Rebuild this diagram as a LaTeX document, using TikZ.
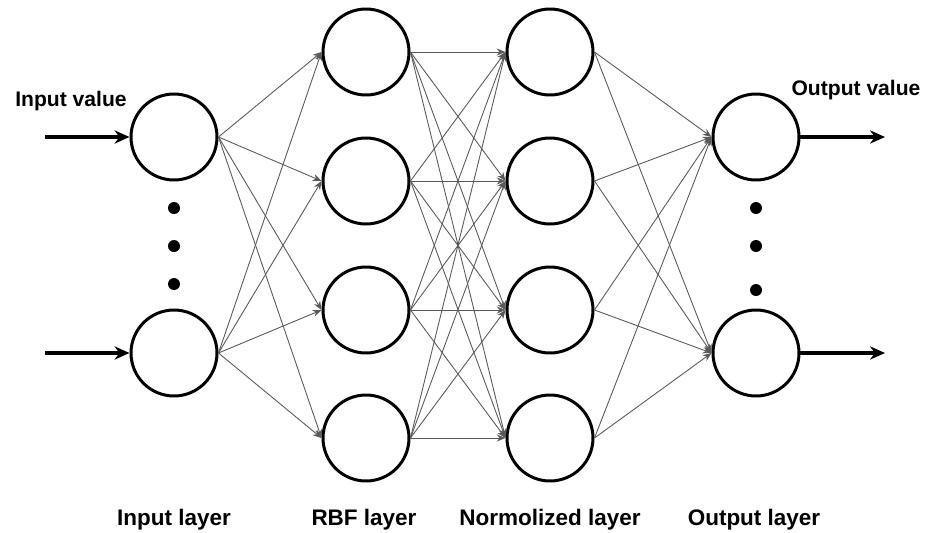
\documentclass[tikz,border=0pt]{standalone}
\usepackage{fontspec}
\setmainfont{Liberation Sans}
\usetikzlibrary{arrows.meta}

\begin{document}
\begin{tikzpicture}[
    x=0.02cm, y=-0.02cm,
    every node/.style={font=\bfseries\fontsize{12}{14}\selectfont},
    neuron/.style={circle, draw, line width=1.7pt, minimum size=1.72cm, inner sep=0pt},
    link/.style={draw=black!65, line width=0.5pt, -{Stealth[length=5pt,width=4pt]}},
    io/.style={line width=2pt, -{Stealth[length=8.5pt,width=7.5pt]}},
    layername/.style={font=\bfseries\fontsize{12.8}{14}\selectfont},
  ]
    \useasboundingbox (0,0) rectangle (934,532);
    %% Neurons
    \foreach \n/\y in {1/137,2/353}
      \node[neuron] (i\n) at (174,\y) {};
    \foreach \n/\y in {1/52,2/181,3/310,4/438}
      \node[neuron] (r\n) at (366,\y) {};
    \foreach \n/\y in {1/52,2/181,3/310,4/438}
      \node[neuron] (m\n) at (550,\y) {};
    \foreach \n/\y in {1/137,2/353}
      \node[neuron] (o\n) at (756,\y) {};
    %% Fully connected links
    \foreach \a in {1,2}
      \foreach \b in {1,...,4}
        \draw[link] (i\a.east) -- (r\b.west);
    \foreach \a in {1,...,4}
      \foreach \b in {1,...,4}
        \draw[link] (r\a.east) -- (m\b.west);
    \foreach \a in {1,...,4}
      \foreach \b in {1,2}
        \draw[link] (m\a.east) -- (o\b.west);
    %% Ellipsis dots
    \foreach \y in {208,246,284}
      \fill (174,\y) circle (6);
    \foreach \y in {208,246,290}
      \fill (756,\y) circle (6);
    %% Inputs and outputs
    \coordinate (in1) at (45,137);
    \coordinate (in2) at (45,353);
    \coordinate (out1) at (885,137);
    \coordinate (out2) at (885,353);
    \draw[io] (in1) -- (i1);
    \draw[io] (in2) -- (i2);
    \draw[io] (o1) -- (out1);
    \draw[io] (o2) -- (out2);
    \node (invalue) at (71,101) {Input value};
    \node (outvalue) at (856,90) {Output value};
    %% Layer names
    \node[layername] (linput) at (174,520) {Input layer};
    \node[layername] (lrbf) at (364,520) {RBF layer};
    \node[layername] (lnorm) at (550,520) {Normolized layer};
    \node[layername] (loutput) at (754,520) {Output layer};
\end{tikzpicture}
\end{document}
